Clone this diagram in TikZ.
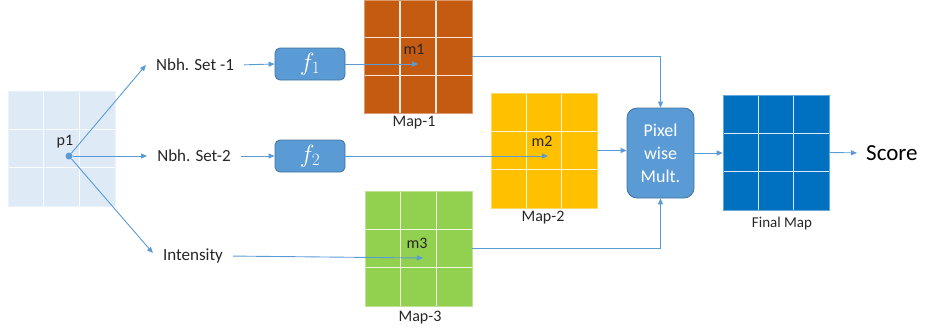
\documentclass[tikz,border=0pt]{standalone}
\usepackage{fontspec}
\setmainfont{Carlito}
\usetikzlibrary{calc,arrows.meta}
\definecolor{arr}{HTML}{5B9BD5}
\definecolor{boxedge}{HTML}{41719C}
\definecolor{inblue}{HTML}{DEEBF7}
\definecolor{orangemap}{HTML}{C55A11}
\definecolor{yellowmap}{HTML}{FFC000}
\definecolor{greenmap}{HTML}{92D050}
\definecolor{bluemap}{HTML}{0070C0}
\definecolor{txt}{HTML}{262626}
\tikzset{
  gridbox/.style={rectangle, fill=#1, draw=white!40!#1, line width=0.6pt, inner sep=0pt,
    path picture={
      \foreach \t in {0.3333,0.6667}{
        \draw[white!85!#1, line width=1.5pt]
          ($(path picture bounding box.north west)!\t!(path picture bounding box.north east)$) --
          ($(path picture bounding box.south west)!\t!(path picture bounding box.south east)$);
        \draw[white!85!#1, line width=1.5pt]
          ($(path picture bounding box.north west)!\t!(path picture bounding box.south west)$) --
          ($(path picture bounding box.north east)!\t!(path picture bounding box.south east)$);
      }}},
  conn/.style={draw=arr, line width=0.9pt, -{Triangle[length=6pt,width=5pt]}},
  lbl/.style={text=txt, font=\fontsize{17}{20}\selectfont, inner sep=4pt},
  maplbl/.style={text=txt, font=\fontsize{16}{19}\selectfont, inner sep=0pt},
  celllbl/.style={text=black!85, font=\fontsize{16}{19}\selectfont, inner sep=0pt},
  fbox/.style={rectangle, rounded corners=5pt, fill=arr, draw=boxedge, line width=0.8pt,
    minimum width=70pt, minimum height=32pt, text=white, font=\fontsize{25}{26}\selectfont},
}
\begin{document}
\begin{tikzpicture}[x=1pt,y=-1pt]
\useasboundingbox (0,0) rectangle (925,332);

% input grid
\node[gridbox=inblue, minimum width=107pt, minimum height=115pt] (inp) at (61.5,148.5) {};
\node[circle, fill=arr, inner sep=0pt, minimum size=7pt] (p1dot) at (69,156) {};
\node[celllbl] (p1lbl) at (65,142) {p1};

% text nodes
\node[lbl] (nbh1) at (195,65) {Nbh. Set -1};
\node[lbl] (nbh2) at (194,156) {Nbh. Set-2};
\node[lbl] (intens) at (193,256) {Intensity};

% f boxes
\node[fbox] (f1) at (310,64) {$f_1$};
\node[fbox] (f2) at (310,156) {$f_2$};

% maps
\node[gridbox=orangemap, minimum width=108pt, minimum height=113pt] (m1) at (418,56.5) {};
\node[gridbox=yellowmap, minimum width=106pt, minimum height=115pt] (m2) at (544,150.5) {};
\node[gridbox=greenmap, minimum width=107pt, minimum height=115pt] (m3) at (418.5,248.5) {};
\node[gridbox=bluemap, minimum width=106pt, minimum height=115pt] (fin) at (776,152.5) {};

\node[celllbl] (m1lbl) at (414,49) {m1};
\node[celllbl] (m2lbl) at (542,141) {m2};
\node[celllbl] (m3lbl) at (417,243) {m3};

\node[maplbl] (map1) at (414,123) {Map-1};
\node[maplbl] (map2) at (543,218) {Map-2};
\node[maplbl] (map3) at (420,318) {Map-3};
\node[maplbl, font=\fontsize{15}{18}\selectfont] (finlbl) at (782,223) {Final Map};

% pixelwise mult
\node[rectangle, rounded corners=10pt, fill=arr, draw=boxedge, line width=0.8pt,
      minimum width=67pt, minimum height=90pt, text=white, align=center,
      font=\fontsize{18}{23}\selectfont] (pix) at (660.5,153) {Pixel\\wise\\Mult.};

\node[text=black, font=\fontsize{23}{26}\selectfont, anchor=west, inner sep=0pt] (score) at (866,153) {Score};

% end coordinates inside maps
\coordinate (m1c) at (418,64);
\coordinate (m2c) at (548,156);
\coordinate (m3c) at (423,258);

% connectors
\draw[conn] (p1dot) -- ([xshift=-6pt]nbh1.west);
\draw[conn] (p1dot) -- ([xshift=-6pt]nbh2.west);
\draw[conn] (p1dot) -- ([xshift=-6pt,yshift=3pt]intens.west);
\draw[conn, shorten <=6pt] (nbh1.east) -- (f1.west);
\draw[conn, shorten <=6pt] (nbh2.east) -- (f2.west);
\draw[conn, shorten <=6pt] (intens.east) -- (m3c);
\draw[conn] (f1.east) -- (m1c);
\draw[conn] (f2.east) -- (m2c);
\draw[conn] (m1.east) -| (pix.north);
\draw[conn] (m3.east) -| (pix.south);
\draw[conn] (m2.east) -- (m2.east -| pix.west);
\draw[conn] (pix.east) -- (pix.east -| fin.west);
\draw[conn, shorten >=9pt] (fin.east) -- (score.west);
\end{tikzpicture}
\end{document}
